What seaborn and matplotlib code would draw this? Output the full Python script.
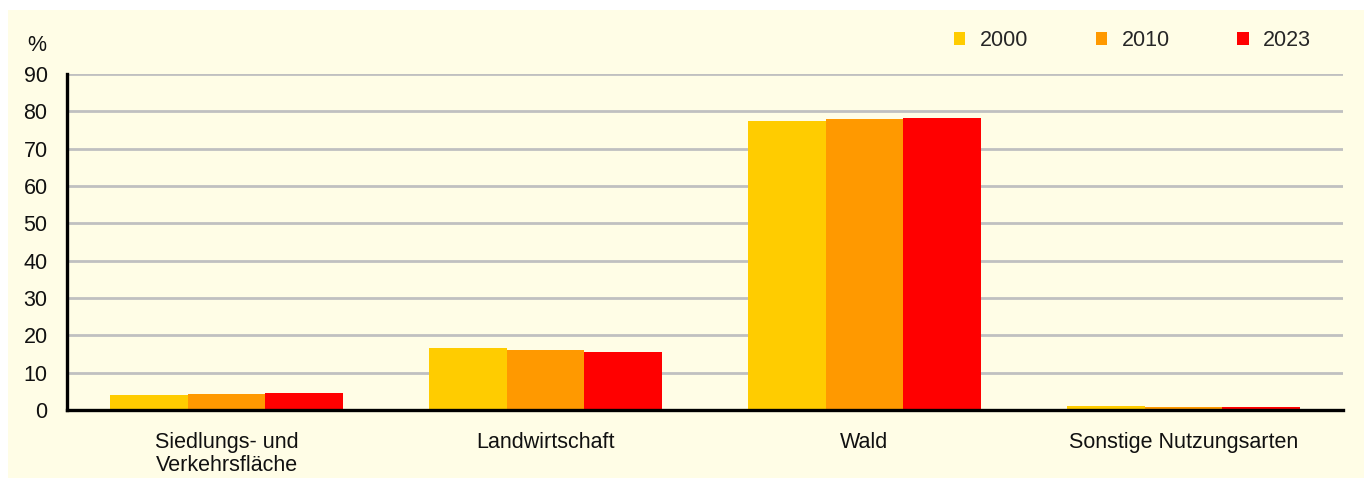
import pandas as pd
import numpy as np
import matplotlib
matplotlib.use("Agg")
import matplotlib.pyplot as plt
import seaborn as sns
from matplotlib.patches import Rectangle

# data (share of area, %)
categories = ["Siedlungs- und\nVerkehrsfläche", "Landwirtschaft", "Wald", "Sonstige Nutzungsarten"]
years = ["2000", "2010", "2023"]
values_2000 = [4.0, 16.6, 77.4, 1.1]
values_2010 = [4.3, 16.0, 78.0, 0.9]
values_2023 = [4.5, 15.6, 78.3, 0.8]
colors = ["#FFCC00", "#FF9900", "#FF0000"]
bg = "#FFFDE6"

df = pd.DataFrame({
    "Kategorie": categories * 3,
    "Jahr": [y for y in years for _ in categories],
    "Wert": values_2000 + values_2010 + values_2023,
})

sns.set_style("white")
plt.rcParams["font.family"] = ["Liberation Sans", "DejaVu Sans"]

fig = plt.figure(figsize=(13.72, 4.9), dpi=100, facecolor="white")
# cream panel behind everything
panel = Rectangle((8 / 1372, 1 - 478 / 490), 1356 / 1372, 468 / 490,
                  transform=fig.transFigure, facecolor=bg, edgecolor="none", zorder=-10)
fig.add_artist(panel)

ax = fig.add_axes([67 / 1372, 1 - 410 / 490, 1276 / 1372, 336 / 490])
ax.set_facecolor(bg)

sns.barplot(data=df, x="Kategorie", y="Wert", hue="Jahr", palette=colors, saturation=1,
            width=0.73, gap=0, linewidth=0, ax=ax, legend=True, zorder=3)

ax.set_ylim(0, 90)
ax.set_xlim(-0.5, 3.5)
ax.set_yticks(np.arange(0, 91, 10))
ax.yaxis.grid(True, color="#C0C0C0", linewidth=2.0, zorder=0)
ax.set_axisbelow(True)
ax.set_xlabel("")
ax.set_ylabel("")

for s in ["top", "right"]:
    ax.spines[s].set_visible(False)
ax.spines["left"].set_color("black")
ax.spines["left"].set_linewidth(2.4)
ax.spines["bottom"].set_color("black")
ax.spines["bottom"].set_linewidth(2.4)
ax.spines["bottom"].set_zorder(5)

ax.tick_params(axis="y", length=0, pad=14, labelsize=15.5, colors="#111111")
ax.tick_params(axis="x", length=0, pad=16, labelsize=15.5, colors="#111111")
for lab in ax.get_xticklabels():
    lab.set_linespacing(1.12)

ax.text(-0.016, 1.085, "%", transform=ax.transAxes, ha="right", va="center", fontsize=15.5, color="#111111")

handles, labels = ax.get_legend_handles_labels()
ax.legend(handles, labels, loc="center left", bbox_to_anchor=(945 / 1372, 1 - 41 / 490),
          bbox_transform=fig.transFigure, ncol=3, frameon=False, fontsize=15.5,
          handlelength=0.55, handleheight=0.55, handletextpad=0.65, columnspacing=3.15,
          borderaxespad=0)

fig.savefig("out.png", dpi=100, facecolor="white")
